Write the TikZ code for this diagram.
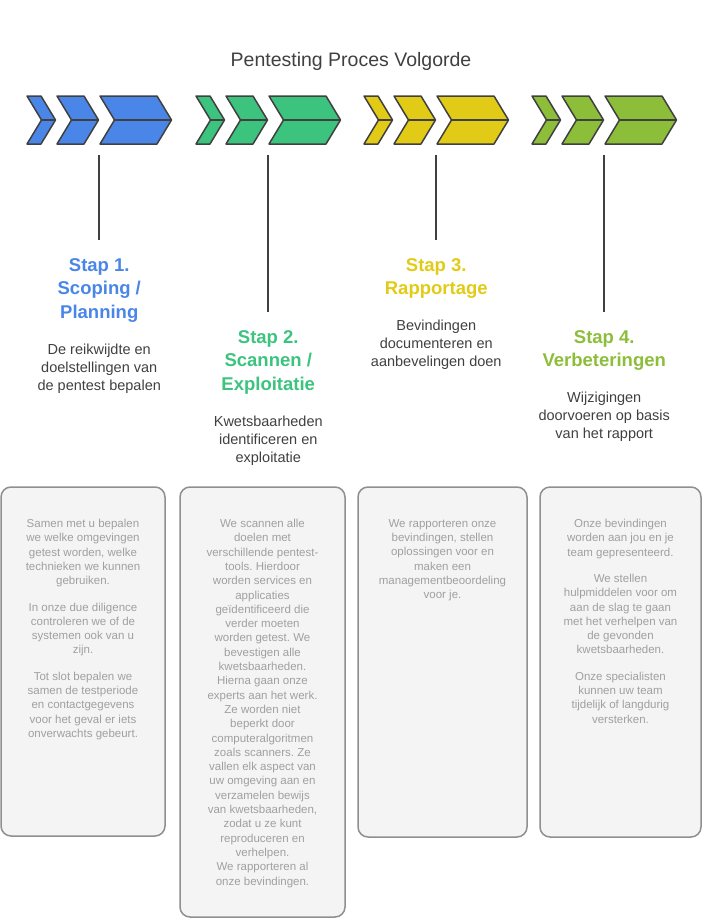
\documentclass[tikz,border=0pt]{standalone}
\usepackage{fontspec}
\setmainfont{Liberation Sans}
\usetikzlibrary{calc}
\frenchspacing
\definecolor{cblue}{HTML}{4A86E8}
\definecolor{cgreen}{HTML}{3CC47E}
\definecolor{cyellow}{HTML}{E2CB16}
\definecolor{clime}{HTML}{8DBE3A}
\definecolor{ink}{HTML}{404040}
\definecolor{boxtxt}{HTML}{A0A0A0}
\definecolor{boxfill}{HTML}{F4F4F4}
\definecolor{boxline}{HTML}{8F8F8F}
\newcommand\chevgroup[2]{%
  \foreach \l/\w in {0/14,30/27,73/57}{%
    \filldraw[chev, fill=#2] ({#1+\l},96) -- ({#1+\l+\w},96) -- ({#1+\l+\w+14.5},120)
      -- ({#1+\l+\w},144) -- ({#1+\l},144) -- ({#1+\l+14.5},120) -- cycle;
    \draw[chev] ({#1+\l+14.5},120) -- ({#1+\l+\w+14.5},120);
  }}
\begin{document}
\frenchspacing
\begin{tikzpicture}[x=1pt,y=-1pt,
  chev/.style={draw=ink, line width=1.5pt, line join=round},
  grp/.style={minimum width=145pt, minimum height=48pt, inner sep=0pt, outer sep=0pt},
  stem/.style={draw=ink, line width=2pt},
  steptitle/.style={font=\fontsize{18.5}{23.5}\selectfont\bfseries, align=center, anchor=north, inner sep=0pt, outer sep=0pt},
  stepdesc/.style={font=\fontsize{14.5}{18}\selectfont, text=ink, align=center, anchor=north, inner sep=0pt},
  card/.style={draw=boxline, fill=boxfill, line width=1.5pt, rounded corners=10pt, inner sep=0pt, outer sep=0pt},
  cardtext/.style={font=\fontsize{11.5}{14.3}\selectfont, text=boxtxt, align=center, anchor=north, inner sep=0pt},
  title/.style={font=\fontsize{19.5}{23}\selectfont, text=ink}]

\useasboundingbox (0,0) rectangle (702,921);

\node[title] (title) at (351,61.5) {Pentesting Proces Volgorde};

% chevron groups
\chevgroup{27}{cblue}
\chevgroup{196}{cgreen}
\chevgroup{364}{cyellow}
\chevgroup{532}{clime}
\node[grp] (g1) at (99.25,120) {};
\node[grp] (g2) at (268.25,120) {};
\node[grp] (g3) at (436.25,120) {};
\node[grp] (g4) at (604.25,120) {};

% step labels
\node[steptitle, text=cblue] (s1) at (99.25,258.5) {Stap 1.\\Scoping /\\Planning};
\node[stepdesc] (d1) at (99.25,344) {De reikwijdte en\\doelstellingen van\\de pentest bepalen};
\node[steptitle, text=cgreen] (s2) at (268.25,330.5) {Stap 2.\\Scannen /\\Exploitatie};
\node[stepdesc] (d2) at (268.25,416) {Kwetsbaarheden\\identificeren en\\exploitatie};
\node[steptitle, text=cyellow] (s3) at (436.25,258.5) {Stap 3.\\Rapportage};
\node[stepdesc] (d3) at (436.25,320) {Bevindingen\\documenteren en\\aanbevelingen doen};
\node[steptitle, text=clime] (s4) at (604.25,330.5) {Stap 4.\\Verbeteringen};
\node[stepdesc] (d4) at (604.25,392) {Wijzigingen\\doorvoeren op basis\\van het rapport};

% stems
\draw[stem] ([yshift=-11pt]g1.south) -- ([yshift=18.5pt]s1.north);
\draw[stem] ([yshift=-11pt]g2.south) -- ([yshift=18.5pt]s2.north);
\draw[stem] ([yshift=-11pt]g3.south) -- ([yshift=18.5pt]s3.north);
\draw[stem] ([yshift=-11pt]g4.south) -- ([yshift=18.5pt]s4.north);

% cards
\node[card, minimum width=164pt, minimum height=349pt] (c1) at (83,661.5) {};
\node[card, minimum width=165pt, minimum height=430pt] (c2) at (262.5,702) {};
\node[card, minimum width=169pt, minimum height=350pt] (c3) at (442.5,662) {};
\node[card, minimum width=161pt, minimum height=350pt] (c4) at (620.5,662) {};

\node[cardtext] (t1) at ([yshift=-32pt]c1.north) {Samen met u bepalen\\we welke omgevingen\\getest worden, welke\\technieken we kunnen\\gebruiken.\\[12pt]In onze due diligence\\controleren we of de\\systemen ook van u\\zijn.\\[12pt]Tot slot bepalen we\\samen de testperiode\\en contactgegevens\\voor het geval er iets\\onverwachts gebeurt.};
\node[cardtext] (t2) at ([yshift=-32pt]c2.north) {We scannen alle\\doelen met\\verschillende pentest-\\tools. Hierdoor\\worden services en\\applicaties\\geïdentificeerd die\\verder moeten\\worden getest. We\\bevestigen alle\\kwetsbaarheden.\\Hierna gaan onze\\experts aan het werk.\\Ze worden niet\\beperkt door\\computeralgoritmen\\zoals scanners. Ze\\vallen elk aspect van\\uw omgeving aan en\\verzamelen bewijs\\van kwetsbaarheden,\\zodat u ze kunt\\reproduceren en\\verhelpen.\\We rapporteren al\\onze bevindingen.};
\node[cardtext] (t3) at ([yshift=-32pt]c3.north) {We rapporteren onze\\bevindingen, stellen\\oplossingen voor en\\maken een\\managementbeoordeling\\voor je.};
\node[cardtext] (t4) at ([yshift=-32pt]c4.north) {Onze bevindingen\\worden aan jou en je\\team gepresenteerd.\\[12pt]We stellen\\hulpmiddelen voor om\\aan de slag te gaan\\met het verhelpen van\\de gevonden\\kwetsbaarheden.\\[12pt]Onze specialisten\\kunnen uw team\\tijdelijk of langdurig\\versterken.};
\end{tikzpicture}
\end{document}
